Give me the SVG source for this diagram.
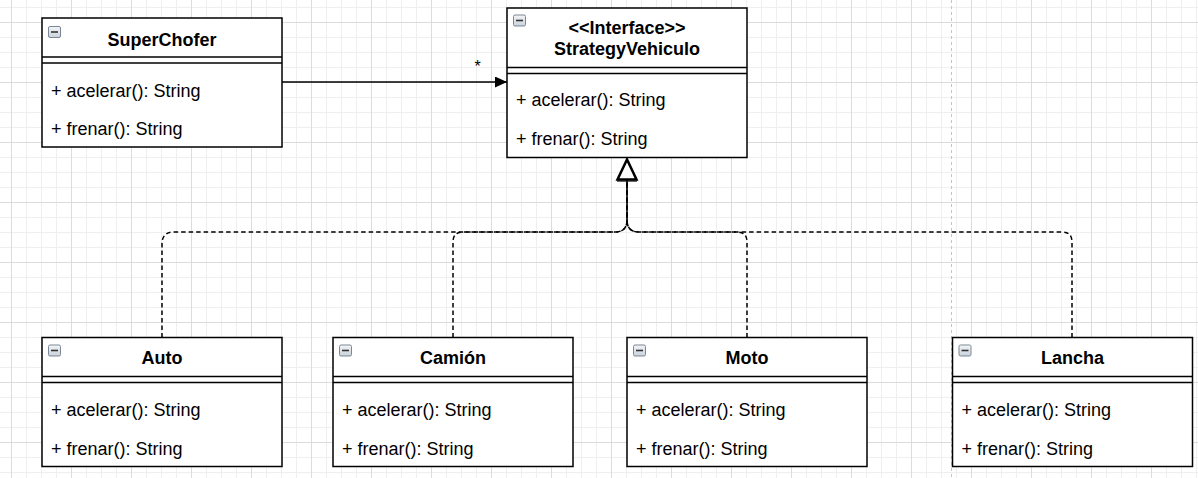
<svg xmlns="http://www.w3.org/2000/svg" width="1198" height="478" viewBox="0 0 1198 478">
<style>
.box{fill:#ffffff;stroke:#000000;stroke-width:1.5}
.ln{fill:none;stroke:#000000;stroke-width:1.5}
.title{font-family:"Liberation Sans",Arial,sans-serif;font-size:18px;font-weight:bold;text-anchor:middle;fill:#000000}
.item{font-family:"Liberation Sans",Arial,sans-serif;font-size:18px;fill:#000000}
.dash{fill:none;stroke:#000000;stroke-width:1.5;stroke-dasharray:4.5 3}
.icon{fill:url(#ig);stroke:#7b8796;stroke-width:1}
.minus{stroke:#333333;stroke-width:1.6}
</style>
<defs>
<pattern id="grid" x="11" y="22" width="60" height="60" patternUnits="userSpaceOnUse">
<rect x="0" y="0" width="60" height="60" fill="#ffffff"/>
<rect x="15" y="0" width="1" height="60" fill="#efefef"/>
<rect x="30" y="0" width="1" height="60" fill="#efefef"/>
<rect x="45" y="0" width="1" height="60" fill="#efefef"/>
<rect x="0" y="15" width="60" height="1" fill="#efefef"/>
<rect x="0" y="30" width="60" height="1" fill="#efefef"/>
<rect x="0" y="45" width="60" height="1" fill="#efefef"/>
<rect x="0" y="0" width="1" height="60" fill="#dcdcdc"/>
<rect x="0" y="0" width="60" height="1" fill="#dcdcdc"/>
</pattern>
<linearGradient id="ig" x1="0" y1="0" x2="0" y2="1">
<stop offset="0" stop-color="#f4f6f8"/>
<stop offset="1" stop-color="#c9d1da"/>
</linearGradient>
<marker id="block" markerWidth="12" markerHeight="11" refX="12" refY="5.5" orient="auto" markerUnits="userSpaceOnUse">
<path d="M0,0 L12,5.5 L0,11 Z" fill="#000000"/>
</marker>
</defs>
<rect x="0" y="0" width="1198" height="478" fill="url(#grid)"/>
<line x1="951.5" y1="0" x2="951.5" y2="478" stroke="#c4c4c4" stroke-width="1" stroke-dasharray="3 3"/>

<g id="connectors">
<line class="ln" x1="282" y1="82" x2="507" y2="82" marker-end="url(#block)"/>
<text x="477.5" y="72" font-family="Liberation Sans,Arial,sans-serif" font-size="16" text-anchor="middle">*</text>
<path class="dash" d="M162,337.5 V244 Q162,232 174,232 H615 Q627,232 627,220 V180"/>
<path class="dash" d="M453,337.5 V242 Q453,232 463,232 H615 Q627,232 627,220 V180"/>
<path class="dash" d="M747,337.5 V242 Q747,232 737,232 H639 Q627,232 627,220 V180"/>
<path class="dash" d="M1072,337.5 V242 Q1072,232 1062,232 H639 Q627,232 627,220 V180"/>
<polygon points="627,159.5 617.5,179.5 636.5,179.5" fill="#ffffff" stroke="#000000" stroke-width="2.5" stroke-linejoin="miter"/>
<line x1="617" y1="181" x2="637" y2="181" stroke="#000000" stroke-width="1.2"/>
</g>

<g id="SuperChofer">
<rect class="box" x="42" y="18" width="240" height="129"/>
<line class="ln" x1="42" y1="57" x2="282" y2="57"/>
<line class="ln" x1="42" y1="63" x2="282" y2="63"/>
<rect class="icon" x="48.5" y="26.5" width="12" height="11" rx="1.5"/>
<line class="minus" x1="51" y1="32" x2="58" y2="32"/>
<text class="title" x="162" y="45.5">SuperChofer</text>
<text class="item" x="51" y="96.5">+ acelerar(): String</text>
<text class="item" x="51" y="135">+ frenar(): String</text>
</g>

<g id="StrategyVehiculo">
<rect class="box" x="507" y="8" width="240" height="149.5"/>
<line class="ln" x1="507" y1="67.5" x2="747" y2="67.5"/>
<line class="ln" x1="507" y1="73.5" x2="747" y2="73.5"/>
<rect class="icon" x="513.5" y="15" width="12" height="11" rx="1.5"/>
<line class="minus" x1="516" y1="20.5" x2="523" y2="20.5"/>
<text class="title" x="627" y="34.3">&lt;&lt;Interface&gt;&gt;</text>
<text class="title" x="627" y="55">StrategyVehiculo</text>
<text class="item" x="516" y="106">+ acelerar(): String</text>
<text class="item" x="516" y="145">+ frenar(): String</text>
</g>

<g id="Auto">
<rect class="box" x="42" y="337.5" width="240" height="129"/>
<line class="ln" x1="42" y1="376.5" x2="282" y2="376.5"/>
<line class="ln" x1="42" y1="382.5" x2="282" y2="382.5"/>
<rect class="icon" x="48.5" y="345" width="12" height="11" rx="1.5"/>
<line class="minus" x1="51" y1="350.5" x2="58" y2="350.5"/>
<text class="title" x="162" y="364">Auto</text>
<text class="item" x="51" y="416">+ acelerar(): String</text>
<text class="item" x="51" y="454.5">+ frenar(): String</text>
</g>

<g id="Camion">
<rect class="box" x="333" y="337.5" width="240" height="129"/>
<line class="ln" x1="333" y1="376.5" x2="573" y2="376.5"/>
<line class="ln" x1="333" y1="382.5" x2="573" y2="382.5"/>
<rect class="icon" x="339.5" y="345" width="12" height="11" rx="1.5"/>
<line class="minus" x1="342" y1="350.5" x2="349" y2="350.5"/>
<text class="title" x="453" y="364">Camión</text>
<text class="item" x="342" y="416">+ acelerar(): String</text>
<text class="item" x="342" y="454.5">+ frenar(): String</text>
</g>

<g id="Moto">
<rect class="box" x="627" y="337.5" width="240" height="129"/>
<line class="ln" x1="627" y1="376.5" x2="867" y2="376.5"/>
<line class="ln" x1="627" y1="382.5" x2="867" y2="382.5"/>
<rect class="icon" x="633.5" y="345" width="12" height="11" rx="1.5"/>
<line class="minus" x1="636" y1="350.5" x2="643" y2="350.5"/>
<text class="title" x="747" y="364">Moto</text>
<text class="item" x="636" y="416">+ acelerar(): String</text>
<text class="item" x="636" y="454.5">+ frenar(): String</text>
</g>

<g id="Lancha">
<rect class="box" x="952.5" y="337.5" width="240" height="129"/>
<line class="ln" x1="952.5" y1="376.5" x2="1192.5" y2="376.5"/>
<line class="ln" x1="952.5" y1="382.5" x2="1192.5" y2="382.5"/>
<rect class="icon" x="959" y="345" width="12" height="11" rx="1.5"/>
<line class="minus" x1="961.5" y1="350.5" x2="968.5" y2="350.5"/>
<text class="title" x="1072.5" y="364">Lancha</text>
<text class="item" x="961.5" y="416">+ acelerar(): String</text>
<text class="item" x="961.5" y="454.5">+ frenar(): String</text>
</g>
</svg>
